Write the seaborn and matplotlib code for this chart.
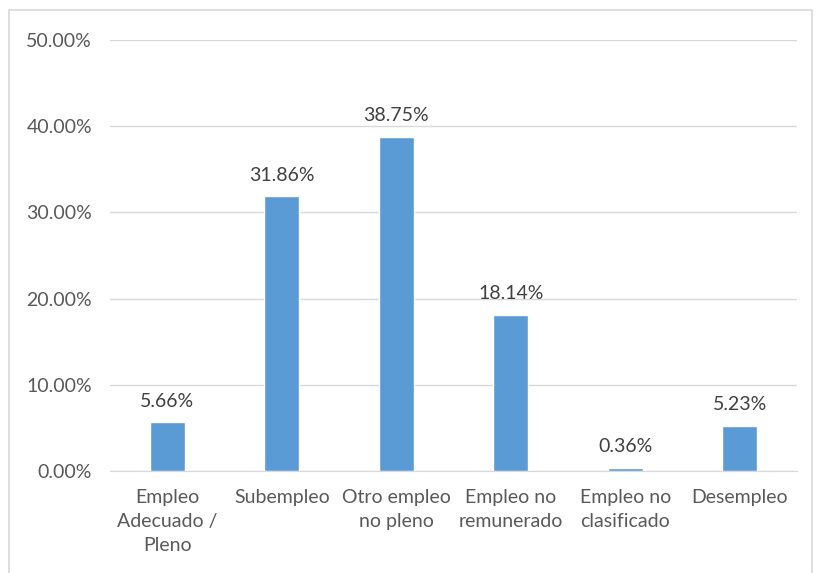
import matplotlib.pyplot as plt
import seaborn as sns
import pandas as pd
from matplotlib.ticker import PercentFormatter
from matplotlib.patches import Rectangle

# datos
categorias = ['Empleo\nAdecuado /\nPleno', 'Subempleo', 'Otro empleo\nno pleno',
              'Empleo no\nremunerado', 'Empleo no\nclasificado', 'Desempleo']
porcentajes = [5.66, 31.86, 38.75, 18.14, 0.36, 5.23]
etiquetas = ['5.66%', '31.86%', '38.75%', '18.14%', '0.36%', '5.23%']

sns.set_style('white')
plt.rcParams['font.family'] = ['Lato', 'DejaVu Sans']

df = pd.DataFrame({'cat': categorias, 'val': porcentajes})

fig = plt.figure(figsize=(8.16, 5.73), dpi=100)
ax = fig.add_axes([110 / 816, 1 - 471 / 573, 687 / 816, 431 / 573])

sns.barplot(data=df, x='cat', y='val', color='#5B9BD5', saturation=1,
            width=0.31, ax=ax, zorder=3)

# etiquetas de valor
for i, (v, t) in enumerate(zip(porcentajes, etiquetas)):
    ax.annotate(t, (i, v), xytext=(0, 9), textcoords='offset points',
                ha='center', va='bottom', fontsize=14, color='#404040')

ax.set_ylim(0, 50)
ax.set_yticks([0, 10, 20, 30, 40, 50])
ax.yaxis.set_major_formatter(PercentFormatter(decimals=2))
ax.grid(axis='y', color='#D9D9D9', linewidth=1, zorder=0)
ax.set_xlabel('')
ax.set_ylabel('')
for s in ['left', 'right', 'top']:
    ax.spines[s].set_visible(False)
ax.spines['bottom'].set_color('#D9D9D9')
ax.tick_params(axis='both', length=0, labelsize=14, colors='#595959')
ax.tick_params(axis='x', pad=13)
ax.tick_params(axis='y', pad=13)
for lbl in ax.get_xticklabels():
    lbl.set_linespacing(1.5)

# marco del gráfico
fig.patches.append(Rectangle((9 / 816, -0.05), 803 / 816, 1.05 - 10 / 573,
                             transform=fig.transFigure, fill=False,
                             edgecolor='#D9D9D9', linewidth=1.2))

fig.savefig('out.png', dpi=100)
